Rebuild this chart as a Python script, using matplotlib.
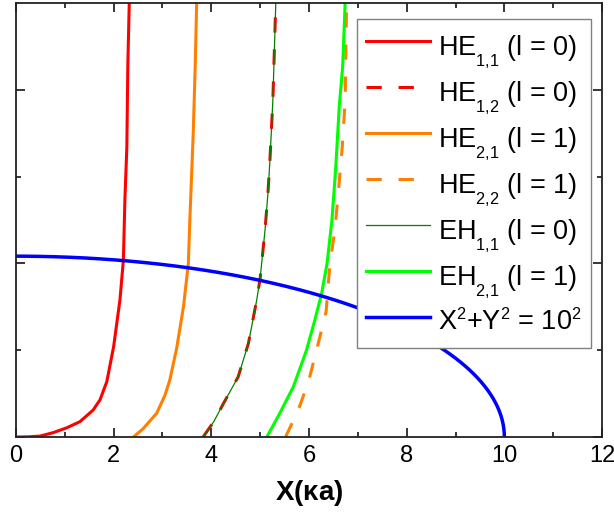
import numpy as np
import matplotlib
matplotlib.use("Agg")
import matplotlib.pyplot as plt
from matplotlib import _mathtext
from matplotlib.ticker import FixedLocator, NullFormatter

plt.rcParams["font.family"] = ["Liberation Sans", "DejaVu Sans"]
plt.rcParams["mathtext.fontset"] = "custom"
plt.rcParams["mathtext.rm"] = "Liberation Sans"
plt.rcParams["mathtext.it"] = "Liberation Sans"
plt.rcParams["mathtext.bf"] = "Liberation Sans:bold"

# drop the mode-index subscripts fully below the baseline
_mathtext.FontConstantsBase.sub1 = 0.75
_mathtext.SHRINK_FACTOR = 0.6

# HE11, l = 0
he11_x = [0.0, 0.25, 0.49, 0.76, 1.04, 1.31, 1.58, 1.72, 1.86, 2.0, 2.13, 2.2, 2.23, 2.27, 2.29, 2.32]
he11_y = [0.0, 0.01, 0.05, 0.24, 0.51, 0.85, 1.49, 2.05, 3.06, 5.0, 7.6, 9.8, 13.1, 16.0, 20.5, 24.0]

# HE21, l = 1
he21_x = [2.405, 2.6, 2.88, 3.05, 3.15, 3.29, 3.43, 3.53, 3.56, 3.63, 3.67, 3.70]
he21_y = [0.0, 0.45, 1.31, 2.3, 3.15, 4.9, 7.2, 9.6, 12.0, 16.8, 20.5, 24.0]

# HE12, l = 0 (EH11 runs along the same curve)
he12_x = [3.832, 4.05, 4.25, 4.55, 4.76, 4.93, 5.0, 5.10, 5.16, 5.20, 5.26, 5.32]
he12_y = [0.0, 0.85, 1.86, 3.33, 5.18, 7.58, 8.78, 11.45, 13.5, 15.3, 18.6, 24.0]
eh11_x = he12_x
eh11_y = he12_y

# EH21, l = 1
eh21_x = [5.136, 5.4, 5.68, 5.95, 6.12, 6.26, 6.37, 6.47, 6.55, 6.62, 6.69, 6.74]
eh21_y = [0.0, 1.3, 2.78, 4.81, 6.47, 7.95, 9.6, 12.0, 15.0, 18.3, 20.5, 24.0]

# HE22, l = 1
he22_x = [5.52, 5.78, 5.99, 6.19, 6.35, 6.43, 6.53, 6.60, 6.68, 6.74, 6.77]
he22_y = [0.0, 1.49, 3.06, 5.18, 6.93, 9.6, 11.45, 13.5, 16.0, 18.6, 24.0]

# normalised frequency V for the circle X^2 + Y^2 = V^2
V = 10.0

x_major = [0, 2, 4, 6, 8, 10, 12]
x_minor = [1, 3, 5, 7, 9, 11]
y_major = [0, 9.6, 19.2]
y_minor = [4.8, 14.4]


def main() -> None:
    fig = plt.figure(figsize=(6.14, 5.25), dpi=100)
    ax = fig.add_axes([0.026, 0.1676, 0.9545, 0.8267])

    ax.plot(he11_x, he11_y, color="#ff0000", lw=2.2, label=r"HE$_{1{,}1}$ (l = 0)")
    ax.plot(he12_x, he12_y, color="#ff0000", lw=2.2, dashes=(5, 5.5), label=r"HE$_{1{,}2}$ (l = 0)")
    ax.plot(he21_x, he21_y, color="#ff8000", lw=2.2, label=r"HE$_{2{,}1}$ (l = 1)")
    ax.plot(he22_x, he22_y, color="#ff8000", lw=2.2, dashes=(5, 5.5), label=r"HE$_{2{,}2}$ (l = 1)")
    ax.plot(eh11_x, eh11_y, color="#008000", lw=0.9, label=r"EH$_{1{,}1}$ (l = 0)")
    ax.plot(eh21_x, eh21_y, color="#00ff00", lw=2.2, label=r"EH$_{2{,}1}$ (l = 1)")

    theta = np.linspace(0, np.pi / 2, 200)
    ax.plot(V * np.cos(theta), V * np.sin(theta), color="#0000ff", lw=2.5,
            label=r"X$^2$+Y$^2$ = 10$^2$")

    ax.set_xlim(0, 12)
    ax.set_ylim(0, 24)
    ax.xaxis.set_major_locator(FixedLocator(x_major))
    ax.xaxis.set_minor_locator(FixedLocator(x_minor))
    ax.yaxis.set_major_locator(FixedLocator(y_major))
    ax.yaxis.set_minor_locator(FixedLocator(y_minor))
    ax.yaxis.set_major_formatter(NullFormatter())
    ax.tick_params(which="both", direction="in", top=True, right=True, width=1.1)
    ax.tick_params(which="major", length=6.5, labelsize=17, pad=6)
    ax.tick_params(which="minor", length=3.5)
    for spine in ax.spines.values():
        spine.set_linewidth(1.3)
        spine.set_color("#222222")

    ax.set_xlabel(r"X($\mathbf{\kappa}$a)", fontsize=20, fontweight="bold", labelpad=8)

    leg = ax.legend(loc="upper right", bbox_to_anchor=(0.981, 0.963), borderaxespad=0,
                    fontsize=19.5, handlelength=2.35, handleheight=1.55, handletextpad=0.3,
                    labelspacing=0.18, borderpad=0.35, fancybox=False, framealpha=1)
    leg.get_frame().set_edgecolor("#808080")
    leg.get_frame().set_linewidth(1.0)

    fig.savefig("out.png", dpi=100)


if __name__ == "__main__":
    main()
